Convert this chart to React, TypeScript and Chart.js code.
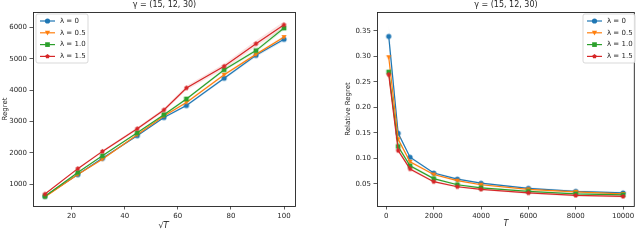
import React, { useEffect, useRef } from "react";
import { Chart, registerables } from "chart.js";
Chart.register(...registerables);

// ---------- data ----------
const lambdaLabels = ["λ = 0", "λ = 0.5", "λ = 1.0", "λ = 1.5"];
const titleText = "γ = (15, 12, 30)";
const T = [100, 500, 1000, 2000, 3000, 4000, 6000, 8000, 10000];
const sqrtT = [10, 22.36, 31.62, 44.72, 54.77, 63.25, 77.46, 89.44, 100];

const regretL0 = [620, 1310, 1830, 2550, 3130, 3510, 4380, 5110, 5620];
const regretL05 = [600, 1310, 1800, 2580, 3180, 3610, 4490, 5140, 5690];
const regretL10 = [620, 1380, 1910, 2640, 3220, 3720, 4650, 5260, 5980];
const regretL15 = [690, 1500, 2050, 2770, 3370, 4070, 4760, 5480, 6080];

const regretSpreadL0 = [15, 20, 25, 30, 35, 40, 50, 55, 60];
const regretSpreadL05 = [15, 20, 25, 30, 35, 40, 45, 50, 55];
const regretSpreadL10 = [15, 20, 25, 30, 35, 40, 50, 60, 70];
const regretSpreadL15 = [20, 30, 35, 45, 55, 70, 85, 100, 110];

const relL0 = [0.339, 0.149, 0.102, 0.071, 0.059, 0.051, 0.041, 0.035, 0.032];
const relL05 = [0.298, 0.137, 0.093, 0.068, 0.056, 0.048, 0.039, 0.034, 0.030];
const relL10 = [0.269, 0.123, 0.085, 0.060, 0.048, 0.042, 0.035, 0.030, 0.028];
const relL15 = [0.264, 0.115, 0.079, 0.054, 0.044, 0.039, 0.032, 0.027, 0.025];

const relSpreadL0 = [0.022, 0.004, 0.003, 0.002, 0.002, 0.002, 0.002, 0.002, 0.002];
const relSpreadL05 = [0.012, 0.004, 0.003, 0.002, 0.002, 0.002, 0.002, 0.002, 0.002];
const relSpreadL10 = [0.010, 0.004, 0.003, 0.002, 0.002, 0.002, 0.002, 0.002, 0.002];
const relSpreadL15 = [0.010, 0.004, 0.003, 0.002, 0.002, 0.002, 0.002, 0.002, 0.002];

const leftXTicks = [20, 40, 60, 80, 100];
const leftYTicks = [1000, 2000, 3000, 4000, 5000, 6000];
const rightXTicks = [0, 2000, 4000, 6000, 8000, 10000];
const rightYTicks = [0.05, 0.1, 0.15, 0.2, 0.25, 0.3, 0.35];

// ---------- styles ----------
const COLORS = ["#1f77b4", "#ff7f0e", "#2ca02c", "#d62728"];
const BANDS = [
  "rgba(31,119,180,0.13)",
  "rgba(255,127,14,0.13)",
  "rgba(44,160,44,0.13)",
  "rgba(214,39,40,0.13)",
];
const MARKERS = ["circle", "triDown", "rect", "pentagon"];
const FONT = "DejaVu Sans";
const TEXT = "#262626";

function drawMarker(ctx: CanvasRenderingContext2D, kind: string, x: number, y: number, r: number, color: string) {
  ctx.save();
  ctx.fillStyle = color;
  ctx.beginPath();
  if (kind === "circle") {
    ctx.arc(x, y, r, 0, Math.PI * 2);
  } else if (kind === "triDown") {
    ctx.moveTo(x - r, y - r * 0.8);
    ctx.lineTo(x + r, y - r * 0.8);
    ctx.lineTo(x, y + r);
    ctx.closePath();
  } else if (kind === "rect") {
    ctx.rect(x - r * 0.9, y - r * 0.9, r * 1.8, r * 1.8);
  } else {
    for (let i = 0; i < 5; i++) {
      const a = -Math.PI / 2 + (i * 2 * Math.PI) / 5;
      const px = x + r * Math.cos(a);
      const py = y + r * Math.sin(a);
      if (i === 0) ctx.moveTo(px, py);
      else ctx.lineTo(px, py);
    }
    ctx.closePath();
  }
  ctx.fill();
  ctx.restore();
}

function markerCanvas(kind: string, color: string, r: number) {
  const c = document.createElement("canvas");
  const s = Math.ceil(r * 2 + 2);
  c.width = s;
  c.height = s;
  const ctx = c.getContext("2d")!;
  drawMarker(ctx, kind, s / 2, s / 2, r, color);
  return c;
}

type Cfg = {
  xs: number[];
  series: number[][];
  spreads: number[][];
  xMin: number;
  xMax: number;
  yMin: number;
  yMax: number;
  xTicks: number[];
  yTicks: number[];
  yFmt: (v: number) => string;
  yAxisWidth: number;
  padRight: number;
  xLabel: string;
  xLabelSqrt: boolean;
  yLabel: string;
  yLabelX: number;
  legendX: number;
};

function buildChart(canvas: HTMLCanvasElement, cfg: Cfg) {
  const R = 2.6;
  const datasets: any[] = [];
  cfg.series.forEach((s, i) => {
    datasets.push({
      label: lambdaLabels[i],
      data: cfg.xs.map((x, k) => ({ x, y: s[k] })),
      borderColor: COLORS[i],
      backgroundColor: COLORS[i],
      borderWidth: 1.2,
      pointStyle: markerCanvas(MARKERS[i], COLORS[i], MARKERS[i] === "pentagon" ? 2.4 : R),
      pointRadius: R,
      tension: 0,
      fill: false,
      order: 3 - i,
    });
  });
  cfg.series.forEach((s, i) => {
    const sp = cfg.spreads[i];
    datasets.push({
      label: "upper" + i,
      data: cfg.xs.map((x, k) => ({ x, y: s[k] + sp[k] })),
      borderWidth: 0,
      borderColor: "rgba(0,0,0,0)",
      backgroundColor: BANDS[i],
      pointRadius: 0,
      fill: "+1",
      order: 10,
    });
    datasets.push({
      label: "lower" + i,
      data: cfg.xs.map((x, k) => ({ x, y: s[k] - sp[k] })),
      borderWidth: 0,
      borderColor: "rgba(0,0,0,0)",
      backgroundColor: BANDS[i],
      pointRadius: 0,
      fill: false,
      order: 10,
    });
  });

  const decor = {
    id: "decor",
    afterDraw(chart: any) {
      const { ctx, chartArea: a } = chart;
      ctx.save();
      // frame
      ctx.strokeStyle = "#222";
      ctx.lineWidth = 0.9;
      ctx.strokeRect(a.left + 0.5, a.top + 0.5, a.right - a.left - 1, a.bottom - a.top);
      // title
      ctx.fillStyle = TEXT;
      ctx.font = `8px "${FONT}"`;
      ctx.textAlign = "center";
      ctx.textBaseline = "middle";
      ctx.fillText(titleText, (a.left + a.right) / 2, 5);
      // x label
      const cx = (a.left + a.right) / 2;
      const ly = 226;
      if (cfg.xLabelSqrt) {
        ctx.font = `8px "${FONT}"`;
        ctx.textAlign = "right";
        ctx.fillText("√", cx - 1, ly);
        ctx.font = `italic 8px "${FONT}"`;
        ctx.textAlign = "left";
        ctx.fillText(cfg.xLabel, cx - 1, ly);
        const w = ctx.measureText(cfg.xLabel).width;
        ctx.strokeStyle = TEXT;
        ctx.lineWidth = 0.6;
        ctx.beginPath();
        ctx.moveTo(cx - 1, ly - 4.5);
        ctx.lineTo(cx - 1 + w + 1, ly - 4.5);
        ctx.stroke();
      } else {
        ctx.font = `italic 8px "${FONT}"`;
        ctx.textAlign = "center";
        ctx.fillText(cfg.xLabel, cx, ly - 2);
      }
      // y label
      ctx.save();
      ctx.translate(cfg.yLabelX, (a.top + a.bottom) / 2);
      ctx.rotate(-Math.PI / 2);
      ctx.font = `7px "${FONT}"`;
      ctx.textAlign = "center";
      ctx.textBaseline = "middle";
      ctx.fillText(cfg.yLabel, 0, 0);
      ctx.restore();
      // legend
      const lx = cfg.legendX;
      const ly0 = 14;
      const lw = 52;
      const lh = 49;
      ctx.beginPath();
      const rr = 2;
      ctx.moveTo(lx + rr, ly0);
      ctx.arcTo(lx + lw, ly0, lx + lw, ly0 + lh, rr);
      ctx.arcTo(lx + lw, ly0 + lh, lx, ly0 + lh, rr);
      ctx.arcTo(lx, ly0 + lh, lx, ly0, rr);
      ctx.arcTo(lx, ly0, lx + lw, ly0, rr);
      ctx.closePath();
      ctx.fillStyle = "rgba(255,255,255,0.85)";
      ctx.fill();
      ctx.strokeStyle = "#cfcfcf";
      ctx.lineWidth = 0.8;
      ctx.stroke();
      lambdaLabels.forEach((lab, i) => {
        const y = 21 + i * 11.8;
        ctx.strokeStyle = COLORS[i];
        ctx.lineWidth = 1.2;
        ctx.beginPath();
        ctx.moveTo(lx + 4, y);
        ctx.lineTo(lx + 19, y);
        ctx.stroke();
        drawMarker(ctx, MARKERS[i], lx + 11.5, y, MARKERS[i] === "pentagon" ? 2.4 : R, COLORS[i]);
        ctx.fillStyle = TEXT;
        ctx.font = `7px "${FONT}"`;
        ctx.textAlign = "left";
        ctx.textBaseline = "middle";
        ctx.fillText(lab, lx + 24, y);
      });
      ctx.restore();
    },
  };

  const tickFont = { family: FONT, size: 7 };
  return new Chart(canvas, {
    type: "line",
    data: { datasets },
    plugins: [decor],
    options: {
      animation: false,
      responsive: false,
      events: [],
      layout: { padding: { top: 12, right: cfg.padRight, left: 0, bottom: 0 } },
      plugins: { legend: { display: false }, tooltip: { enabled: false }, title: { display: false } },
      scales: {
        x: {
          type: "linear",
          min: cfg.xMin,
          max: cfg.xMax,
          afterBuildTicks: (s: any) => {
            s.ticks = cfg.xTicks.map((v) => ({ value: v }));
          },
          afterFit: (s: any) => {
            s.height = 42;
          },
          grid: { display: true, drawOnChartArea: false, drawTicks: true, tickLength: 3.5, color: "#333", lineWidth: 0.8 },
          border: { display: false },
          ticks: {
            font: tickFont,
            color: TEXT,
            padding: 2,
            maxRotation: 0,
            autoSkip: false,
            callback: (v: any) => String(v),
          },
        },
        y: {
          type: "linear",
          min: cfg.yMin,
          max: cfg.yMax,
          afterBuildTicks: (s: any) => {
            s.ticks = cfg.yTicks.map((v) => ({ value: v }));
          },
          afterFit: (s: any) => {
            s.width = cfg.yAxisWidth;
          },
          grid: { display: true, drawOnChartArea: false, drawTicks: true, tickLength: 3.5, color: "#333", lineWidth: 0.8 },
          border: { display: false },
          ticks: {
            font: tickFont,
            color: TEXT,
            padding: 2.5,
            autoSkip: false,
            callback: (v: any) => cfg.yFmt(Number(v)),
          },
        },
      },
    },
  } as any);
}

export default function App() {
  const leftRef = useRef<HTMLCanvasElement>(null);
  const rightRef = useRef<HTMLCanvasElement>(null);

  useEffect(() => {
    const left = buildChart(leftRef.current!, {
      xs: sqrtT,
      series: [regretL0, regretL05, regretL10, regretL15],
      spreads: [regretSpreadL0, regretSpreadL05, regretSpreadL10, regretSpreadL15],
      xMin: 5.5,
      xMax: 104.5,
      yMin: 310,
      yMax: 6490,
      xTicks: leftXTicks,
      yTicks: leftYTicks,
      yFmt: (v) => String(v),
      yAxisWidth: 33,
      padRight: 24,
      xLabel: "T",
      xLabelSqrt: true,
      yLabel: "Regret",
      yLabelX: 5,
      legendX: 36,
    });
    const right = buildChart(rightRef.current!, {
      xs: T,
      series: [relL0, relL05, relL10, relL15],
      spreads: [relSpreadL0, relSpreadL05, relSpreadL10, relSpreadL15],
      xMin: -395,
      xMax: 10495,
      yMin: 0.0063,
      yMax: 0.3867,
      xTicks: rightXTicks,
      yTicks: rightYTicks,
      yFmt: (v) => v.toFixed(2),
      yAxisWidth: 57,
      padRight: 1,
      xLabel: "T",
      xLabelSqrt: false,
      yLabel: "Relative Regret",
      yLabelX: 28,
      legendX: 263,
    });
    return () => {
      left.destroy();
      right.destroy();
    };
  }, []);

  return (
    <div style={{ position: "absolute", left: 0, top: 0, width: 640, height: 248, background: "#fff", overflow: "hidden" }}>
      <canvas ref={leftRef} width={320} height={248} style={{ position: "absolute", left: 0, top: 0, width: 320, height: 248 }} />
      <canvas ref={rightRef} width={320} height={248} style={{ position: "absolute", left: 320, top: 0, width: 320, height: 248 }} />
    </div>
  );
}
